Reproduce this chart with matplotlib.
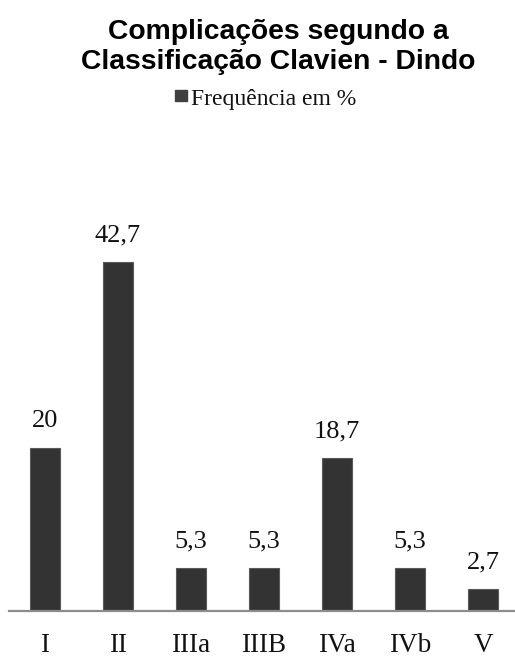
import matplotlib.pyplot as plt
from matplotlib.patches import Rectangle

# Clavien-Dindo grades and complication frequency (%)
grades = ["I", "II", "IIIa", "IIIB", "IVa", "IVb", "V"]
freq = [20, 42.7, 5.3, 5.3, 18.7, 5.3, 2.7]
freq_labels = ["20", "42,7", "5,3", "5,3", "18,7", "5,3", "2,7"]

W, H = 515, 656
fig = plt.figure(figsize=(W / 100, H / 100), dpi=100)

# Plot area: baseline at y=611 px, 7 slots of 73 px starting at x=8.5
ax = fig.add_axes([8.5 / W, (H - 611) / H, 511 / W, 408.5 / H])
ax.set_xlim(-0.5, len(grades) - 0.5)
ax.set_ylim(0, 50)

bars = ax.bar(range(len(grades)), freq, width=0.41, color="#333333",
              edgecolor="#5a5a5a", linewidth=0.8, zorder=2)

for i, (v, lab) in enumerate(zip(freq, freq_labels)):
    ax.annotate(lab, (i, v), xytext=(0, 11), textcoords="offset points",
                ha="center", va="bottom", fontsize=19,
                family="Liberation Serif", color="#111111")

for side in ["top", "right", "left"]:
    ax.spines[side].set_visible(False)
ax.spines["bottom"].set_color("#8c8c8c")
ax.spines["bottom"].set_linewidth(1.6)
ax.set_yticks([])
ax.set_xticks(range(len(grades)))
ax.set_xticklabels(grades, fontsize=19.5, family="Liberation Serif", color="#111111")
ax.tick_params(axis="x", length=0, pad=15.5)

# Title
fig.text(278 / W, 1 - 47 / H, "Complicações segundo a\nClassificação Clavien - Dindo",
         ha="center", va="center", fontsize=20.3, fontweight="bold",
         family="Liberation Sans", linespacing=1.2)

# Legend entry
fig.patches.append(Rectangle((175 / W, 1 - 101 / H), 11.5 / W, 11 / H,
                             transform=fig.transFigure, color="#404040"))
fig.text(191 / W, 1 - 100 / H, "Frequência em %", ha="left", va="center",
         fontsize=17, family="Liberation Serif", color="#111111")

fig.savefig("out.png", dpi=100)
